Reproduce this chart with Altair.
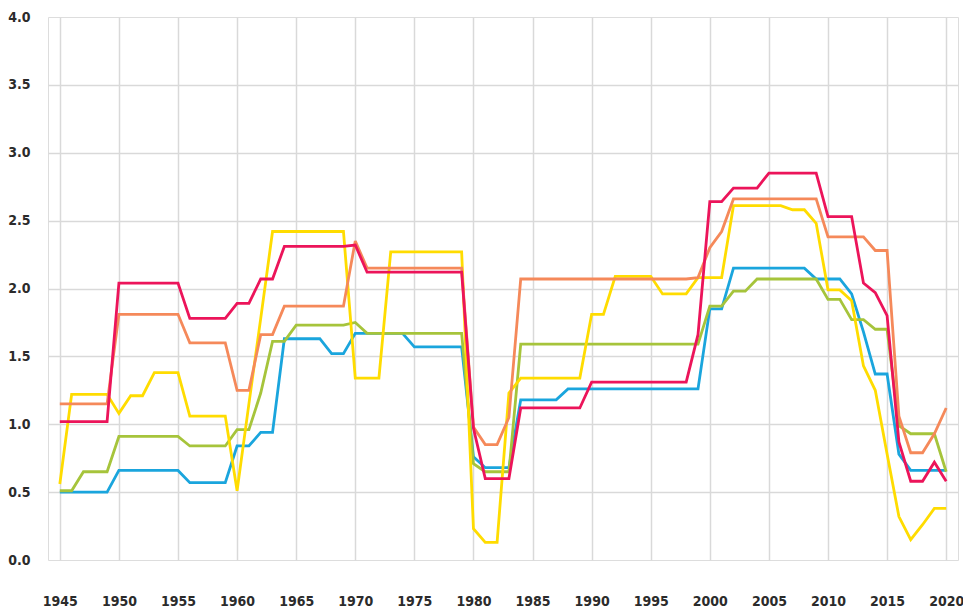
import altair as alt
import pandas as pd

years = list(range(1945, 2021))

red = [1.02, 1.02, 1.02, 1.02, 1.02,
       2.04, 2.04, 2.04, 2.04, 2.04, 2.04,
       1.78, 1.78, 1.78, 1.78,
       1.89, 1.89, 2.07, 2.07, 2.31, 2.31, 2.31, 2.31, 2.31, 2.31, 2.32,
       2.12, 2.12, 2.12, 2.12, 2.12, 2.12, 2.12, 2.12, 2.12,
       0.97, 0.60, 0.60, 0.60,
       1.12, 1.12, 1.12, 1.12, 1.12, 1.12,
       1.31, 1.31, 1.31, 1.31, 1.31, 1.31, 1.31, 1.31, 1.31,
       1.66, 2.64, 2.64, 2.74, 2.74, 2.74, 2.85, 2.85, 2.85, 2.85, 2.85,
       2.53, 2.53, 2.53, 2.04, 1.97, 1.80, 0.87, 0.58, 0.58, 0.72, 0.58]

orange = [1.15, 1.15, 1.15, 1.15, 1.15,
          1.81, 1.81, 1.81, 1.81, 1.81, 1.81,
          1.60, 1.60, 1.60, 1.60,
          1.25, 1.25, 1.66, 1.66, 1.87, 1.87, 1.87, 1.87, 1.87, 1.87, 2.35,
          2.15, 2.15, 2.15, 2.15, 2.15, 2.15, 2.15, 2.15, 2.15,
          0.98, 0.85, 0.85, 1.05,
          2.07, 2.07, 2.07, 2.07, 2.07, 2.07,
          2.07, 2.07, 2.07, 2.07, 2.07, 2.07, 2.07, 2.07, 2.07,
          2.08, 2.30, 2.42, 2.66, 2.66, 2.66, 2.66, 2.66, 2.66, 2.66, 2.66,
          2.38, 2.38, 2.38, 2.38, 2.28, 2.28, 1.06, 0.79, 0.79, 0.93, 1.12]

yellow = [0.56, 1.22, 1.22, 1.22, 1.22,
          1.08, 1.21, 1.21, 1.38, 1.38, 1.38,
          1.06, 1.06, 1.06, 1.06,
          0.51, 1.15, 1.78, 2.42, 2.42, 2.42, 2.42, 2.42, 2.42, 2.42, 1.34,
          1.34, 1.34, 2.27, 2.27, 2.27, 2.27, 2.27, 2.27, 2.27,
          0.23, 0.13, 0.13, 1.23,
          1.34, 1.34, 1.34, 1.34, 1.34, 1.34,
          1.81, 1.81, 2.09, 2.09, 2.09, 2.09, 1.96, 1.96, 1.96,
          2.08, 2.08, 2.08, 2.61, 2.61, 2.61, 2.61, 2.61, 2.58, 2.58, 2.48,
          1.99, 1.99, 1.91, 1.43, 1.25, 0.78, 0.32, 0.15, 0.26, 0.38, 0.38]

green = [0.51, 0.51, 0.65, 0.65, 0.65,
         0.91, 0.91, 0.91, 0.91, 0.91, 0.91,
         0.84, 0.84, 0.84, 0.84,
         0.96, 0.96, 1.23, 1.61, 1.61, 1.73, 1.73, 1.73, 1.73, 1.73, 1.75,
         1.67, 1.67, 1.67, 1.67, 1.67, 1.67, 1.67, 1.67, 1.67,
         0.71, 0.65, 0.65, 0.65,
         1.59, 1.59, 1.59, 1.59, 1.59, 1.59,
         1.59, 1.59, 1.59, 1.59, 1.59, 1.59, 1.59, 1.59, 1.59,
         1.59, 1.87, 1.87, 1.98, 1.98, 2.07, 2.07, 2.07, 2.07, 2.07, 2.07,
         1.92, 1.92, 1.77, 1.77, 1.70, 1.70, 0.99, 0.93, 0.93, 0.93, 0.65]

blue = [0.50, 0.50, 0.50, 0.50, 0.50,
        0.66, 0.66, 0.66, 0.66, 0.66, 0.66,
        0.57, 0.57, 0.57, 0.57,
        0.84, 0.84, 0.94, 0.94, 1.63, 1.63, 1.63, 1.63, 1.52, 1.52, 1.67,
        1.67, 1.67, 1.67, 1.67, 1.57, 1.57, 1.57, 1.57, 1.57,
        0.76, 0.68, 0.68, 0.68,
        1.18, 1.18, 1.18, 1.18, 1.26, 1.26,
        1.26, 1.26, 1.26, 1.26, 1.26, 1.26, 1.26, 1.26, 1.26,
        1.26, 1.85, 1.85, 2.15, 2.15, 2.15, 2.15, 2.15, 2.15, 2.15, 2.07,
        2.07, 2.07, 1.96, 1.68, 1.37, 1.37, 0.78, 0.66, 0.66, 0.66, 0.66]

x_ticks = list(range(1945, 2021, 5))
y_ticks = [0.0, 0.5, 1.0, 1.5, 2.0, 2.5, 3.0, 3.5, 4.0]

# drawing order: bottom -> top
series = [
    ("blue", blue, "#1AA5DD"),
    ("green", green, "#A6C43B"),
    ("yellow", yellow, "#FFDC00"),
    ("orange", orange, "#F5895A"),
    ("red", red, "#EC145A"),
]

FONT = "DejaVu Sans Condensed"

x_enc = alt.X("year:Q",
              scale=alt.Scale(domain=[1944, 2021], nice=False, zero=False),
              axis=alt.Axis(values=x_ticks, format="d", title=None,
                            domain=False, ticks=False, labelPadding=45,
                            labelBaseline="alphabetic",
                            labelFont=FONT, labelFontSize=14, labelFontWeight="bold",
                            labelColor="#2b2b2b", grid=True, gridColor="#d9d9d9",
                            gridWidth=1.5, labelFlush=False))
y_enc = alt.Y("value:Q",
              scale=alt.Scale(domain=[0, 4], nice=False),
              axis=alt.Axis(values=y_ticks, format=".1f", title=None,
                            domain=False, ticks=False, labelPadding=18,
                            labelFont=FONT, labelFontSize=14, labelFontWeight="bold",
                            labelColor="#2b2b2b", grid=True,
                            gridColor={"condition": {"test": "datum.value === 0 || datum.value === 4",
                                                     "value": "transparent"},
                                       "value": "#d9d9d9"},
                            gridWidth=1.5))

layers = []
for i, (name, vals, col) in enumerate(series):
    df = pd.DataFrame({"year": years, "value": vals})
    enc = dict(x=x_enc, y=y_enc) if i == 0 else dict(x=alt.X("year:Q"), y=alt.Y("value:Q"))
    layers.append(alt.Chart(df).mark_line(color=col, strokeWidth=2.8, strokeJoin="miter",
                                          strokeMiterLimit=3).encode(**enc))

chart = alt.layer(*layers).properties(
    width=910, height=543,
    autosize=alt.AutoSizeParams(type="none"),
    padding={"left": 40, "top": 9, "right": 5, "bottom": 50},
).configure_view(stroke=None).configure(background="white")

chart.save("out.html", embed_options={"renderer": "svg", "actions": False})
